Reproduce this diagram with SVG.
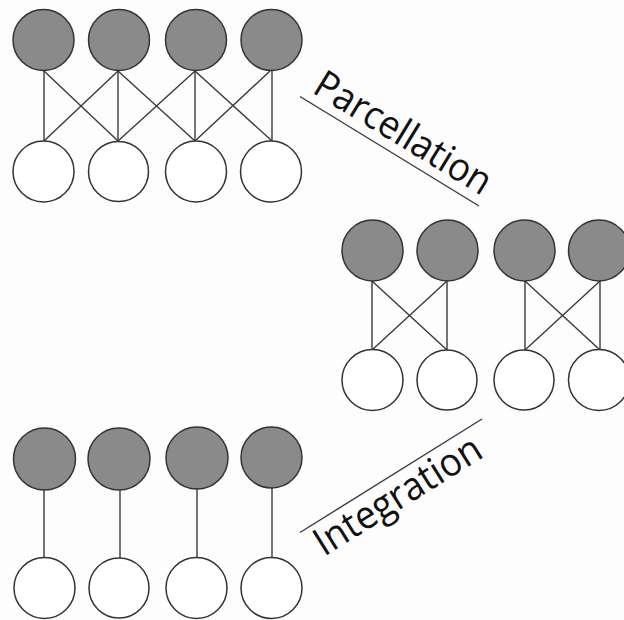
<svg xmlns="http://www.w3.org/2000/svg" width="624" height="620" viewBox="0 0 624 620">
  <style>
    .in { fill: #8a8a8a; stroke: #333; stroke-width: 1.5; }
    .out { fill: #fff; stroke: #333; stroke-width: 1.5; }
    .link { stroke: #3a3a3a; stroke-width: 1.4; fill: none; }
    .label { font-family: "Open Sans", "Noto Sans", sans-serif; font-size: 39px; fill: #111; }
  </style>
  <rect width="624" height="620" fill="#fdfdfd"/>

  <!-- connectors -->
  <g id="connectors">
    <!-- full network: each upper node links to its lower node and neighbours -->
    <g id="links-full" class="link">
      <line x1="44" y1="71" x2="44" y2="141"/>
      <line x1="44" y1="71" x2="118" y2="141"/>
      <line x1="118" y1="71" x2="44" y2="141"/>
      <line x1="118" y1="71" x2="118" y2="141"/>
      <line x1="118" y1="71" x2="195" y2="141"/>
      <line x1="195" y1="71" x2="118" y2="141"/>
      <line x1="195" y1="71" x2="195" y2="141"/>
      <line x1="195" y1="71" x2="272" y2="141"/>
      <line x1="270" y1="71" x2="195" y2="141"/>
      <line x1="272" y1="71" x2="272" y2="141"/>
    </g>
    <!-- parcellated network: two separate modules -->
    <g id="links-parcel" class="link">
      <line x1="372" y1="281" x2="372" y2="350"/>
      <line x1="372" y1="281" x2="447" y2="350"/>
      <line x1="447" y1="281" x2="372" y2="350"/>
      <line x1="447" y1="281" x2="447" y2="350"/>
      <line x1="525" y1="281" x2="525" y2="350"/>
      <line x1="525" y1="281" x2="600" y2="350"/>
      <line x1="600" y1="281" x2="525" y2="350"/>
      <line x1="600" y1="281" x2="600" y2="350"/>
    </g>
    <!-- integrated network: one-to-one links -->
    <g id="links-integ" class="link">
      <line x1="44" y1="490" x2="44" y2="558"/>
      <line x1="120" y1="490" x2="120" y2="558"/>
      <line x1="197" y1="489" x2="197" y2="557"/>
      <line x1="272" y1="488" x2="272" y2="557"/>
    </g>
    <!-- label rules -->
    <line class="link" x1="300" y1="96.5" x2="479" y2="206"/>
    <line class="link" x1="300" y1="532.5" x2="482" y2="419"/>
  </g>

  <!-- full network nodes -->
  <g id="full-in-1"><circle class="in" cx="43.5" cy="40" r="30.5"/></g>
  <g id="full-in-2"><circle class="in" cx="119" cy="40" r="30.5"/></g>
  <g id="full-in-3"><circle class="in" cx="196" cy="40" r="30.5"/></g>
  <g id="full-in-4"><circle class="in" cx="271.5" cy="40" r="30.5"/></g>
  <g id="full-out-1"><circle class="out" cx="43.5" cy="171.5" r="30.5"/></g>
  <g id="full-out-2"><circle class="out" cx="118.5" cy="171.5" r="30"/></g>
  <g id="full-out-3"><circle class="out" cx="196" cy="171.5" r="30.5"/></g>
  <g id="full-out-4"><circle class="out" cx="271" cy="171.5" r="30.5"/></g>

  <!-- parcellated network nodes -->
  <g id="parcel-in-1"><circle class="in" cx="372.5" cy="250.5" r="30.5"/></g>
  <g id="parcel-in-2"><circle class="in" cx="447.5" cy="250.5" r="30.5"/></g>
  <g id="parcel-in-3"><circle class="in" cx="524.5" cy="250.5" r="30.5"/></g>
  <g id="parcel-in-4"><circle class="in" cx="599" cy="250.5" r="30.5"/></g>
  <g id="parcel-out-1"><circle class="out" cx="372.5" cy="380" r="30.5"/></g>
  <g id="parcel-out-2"><circle class="out" cx="447" cy="380" r="30"/></g>
  <g id="parcel-out-3"><circle class="out" cx="524" cy="380" r="30"/></g>
  <g id="parcel-out-4"><circle class="out" cx="599" cy="380" r="30.5"/></g>

  <!-- integrated network nodes -->
  <g id="integ-in-1"><circle class="in" cx="44.5" cy="459" r="31"/></g>
  <g id="integ-in-2"><circle class="in" cx="119" cy="459" r="31"/></g>
  <g id="integ-in-3"><circle class="in" cx="197" cy="458" r="31"/></g>
  <g id="integ-in-4"><circle class="in" cx="271.5" cy="457.5" r="30.5"/></g>
  <g id="integ-out-1"><circle class="out" cx="44.5" cy="588" r="30.5"/></g>
  <g id="integ-out-2"><circle class="out" cx="119" cy="588" r="30"/></g>
  <g id="integ-out-3"><circle class="out" cx="196.5" cy="588" r="30.5"/></g>
  <g id="integ-out-4"><circle class="out" cx="271.5" cy="588" r="30.5"/></g>

  <!-- labels -->
  <g id="label-parcellation">
    <text class="label" transform="translate(311,92) rotate(31.4)" textLength="200" lengthAdjust="spacingAndGlyphs">Parcellation</text>
  </g>
  <g id="label-integration">
    <text class="label" transform="translate(324,557) rotate(-32)" textLength="190" lengthAdjust="spacingAndGlyphs">Integration</text>
  </g>
</svg>
